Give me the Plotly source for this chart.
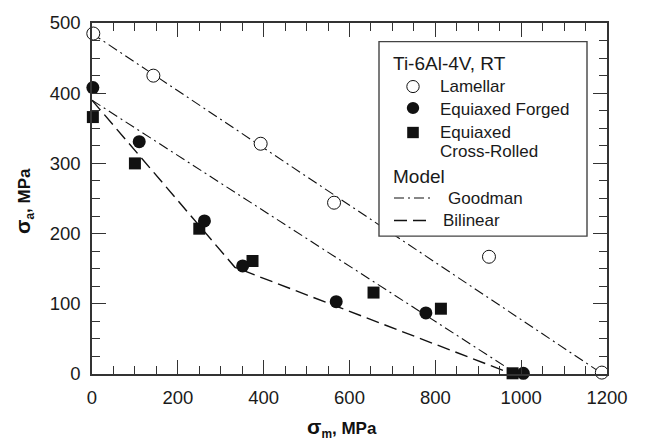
import plotly.graph_objects as go

# ---------------- data ----------------
lam_x = [3, 143, 393, 564, 925, 1188]
lam_y = [485, 425, 328, 244, 167, 2]

forg_x = [2, 110, 262, 351, 569, 778, 1005]
forg_y = [408, 331, 218, 154, 103, 87, 1]

cr_x = [2, 100, 250, 374, 656, 813, 980]
cr_y = [366, 300, 207, 161, 116, 93, 1]

good_lam_x = [0, 1190]
good_lam_y = [485, 0]

good_eq_x = [0, 990]
good_eq_y = [390, 0]

bil_x = [0, 333, 980]
bil_y = [390, 152, 0]

x_ticks = [0, 200, 400, 600, 800, 1000, 1200]
y_ticks = [0, 100, 200, 300, 400, 500]

# ---------------- layout helpers ----------------
W, H = 645, 445
L, R, T, B = 92, 607, 15, 374
FONT = "Liberation Sans, Arial, sans-serif"
INK = "#111111"
AX = "#333333"


def px(xp):
    return (xp - L) / (R - L)


def py(yp):
    return (B - yp) / (B - T)


fig = go.Figure()

GOOD_DASH = "10px,4px,2px,4px"
BIL_DASH = "13px,6px"

fig.add_trace(go.Scatter(x=good_lam_x, y=good_lam_y, mode="lines",
                         line=dict(color=INK, width=1.1, dash=GOOD_DASH),
                         showlegend=False, hoverinfo="skip"))
fig.add_trace(go.Scatter(x=good_eq_x, y=good_eq_y, mode="lines",
                         line=dict(color=INK, width=1.1, dash=GOOD_DASH),
                         showlegend=False, hoverinfo="skip"))
fig.add_trace(go.Scatter(x=bil_x, y=bil_y, mode="lines",
                         line=dict(color=INK, width=1.4, dash=BIL_DASH),
                         showlegend=False, hoverinfo="skip"))

fig.add_trace(go.Scatter(x=cr_x, y=cr_y, mode="markers", cliponaxis=False,
                         marker=dict(symbol="square", size=12, color=INK,
                                     line=dict(width=0)),
                         showlegend=False))
fig.add_trace(go.Scatter(x=forg_x, y=forg_y, mode="markers", cliponaxis=False,
                         marker=dict(symbol="circle", size=13, color=INK,
                                     line=dict(width=0)),
                         showlegend=False))
fig.add_trace(go.Scatter(x=lam_x, y=lam_y, mode="markers", cliponaxis=False,
                         marker=dict(symbol="circle", size=13, color="white",
                                     line=dict(width=1, color=INK)),
                         showlegend=False))

axis_common = dict(
    showline=True, linecolor=AX, linewidth=1.5, mirror="ticks",
    ticks="inside", ticklen=14, tickwidth=1.3, tickcolor=AX,
    showgrid=False, zeroline=False,
    tickfont=dict(family=FONT, size=18.5, color="#1a1a1a"),
)

fig.update_xaxes(range=[0, 1200], tickvals=x_ticks, ticklabelstandoff=6,
                 minor=dict(dtick=50, ticks="inside", ticklen=8, tickwidth=1.3,
                            tickcolor=AX, showgrid=False),
                 **axis_common)
fig.update_yaxes(range=[0, 500], tickvals=y_ticks, ticklabelstandoff=6,
                 minor=dict(dtick=25, ticks="inside", ticklen=8, tickwidth=1.3,
                            tickcolor=AX, showgrid=False),
                 **axis_common)

shapes = []
annotations = []

# axis titles
annotations.append(dict(xref="paper", yref="paper", x=px(342), y=py(429),
                        xanchor="center", yanchor="middle", showarrow=False,
                        text="<b><span style='font-size:21px'>σ</span><sub>m</sub>, MPa</b>",
                        font=dict(family=FONT, size=17, color="#111111")))
annotations.append(dict(xref="paper", yref="paper", x=px(24), y=py(197),
                        xanchor="center", yanchor="middle", showarrow=False,
                        textangle=-90,
                        text="<b><span style='font-size:21px'>σ</span><sub>a</sub>, MPa</b>",
                        font=dict(family=FONT, size=17, color="#111111")))

# legend box
shapes.append(dict(type="rect", xref="paper", yref="paper",
                   x0=px(379), x1=px(587), y0=py(233), y1=py(34),
                   line=dict(color="#444444", width=1.4), fillcolor="white",
                   layer="above"))


def text(xp, yp, s, size):
    annotations.append(dict(xref="paper", yref="paper", x=px(xp), y=py(yp),
                            xanchor="left", yanchor="middle", showarrow=False,
                            text=s, font=dict(family=FONT, size=size,
                                              color="#1a1a1a")))


text(391, 56, "Ti-6Al-4V, RT", 19)
text(438, 80, "Lamellar", 17)
text(438, 103, "Equiaxed Forged", 17)
text(438, 127, "Equiaxed", 17)
text(438, 146, "Cross-Rolled", 17)
text(391, 172, "Model", 19)
text(446, 194, "Goodman", 17)
text(441, 217, "Bilinear", 17)

# legend glyphs
r = 6.2
shapes.append(dict(type="circle", xref="paper", yref="paper",
                   x0=px(413 - r), x1=px(413 + r), y0=py(80 + r), y1=py(80 - r),
                   line=dict(color=INK, width=1), fillcolor="white", layer="above"))
shapes.append(dict(type="circle", xref="paper", yref="paper",
                   x0=px(413 - r), x1=px(413 + r), y0=py(102 + r), y1=py(102 - r),
                   line=dict(color=INK, width=0), fillcolor=INK, layer="above"))
s = 5.8
shapes.append(dict(type="rect", xref="paper", yref="paper",
                   x0=px(413 - s), x1=px(413 + s), y0=py(127 + s), y1=py(127 - s),
                   line=dict(color=INK, width=0), fillcolor=INK, layer="above"))
shapes.append(dict(type="line", xref="paper", yref="paper",
                   x0=px(394), x1=px(433), y0=py(194), y1=py(194),
                   line=dict(color=INK, width=1.1, dash=GOOD_DASH), layer="above"))
shapes.append(dict(type="line", xref="paper", yref="paper",
                   x0=px(394), x1=px(432), y0=py(217), y1=py(217),
                   line=dict(color=INK, width=1.4, dash=BIL_DASH), layer="above"))

fig.update_layout(
    width=W, height=H,
    margin=dict(l=L, r=W - R, t=T, b=H - B, pad=0),
    paper_bgcolor="white", plot_bgcolor="white",
    shapes=shapes, annotations=annotations,
    showlegend=False,
    font=dict(family=FONT),
)

fig.write_html("out.html")
